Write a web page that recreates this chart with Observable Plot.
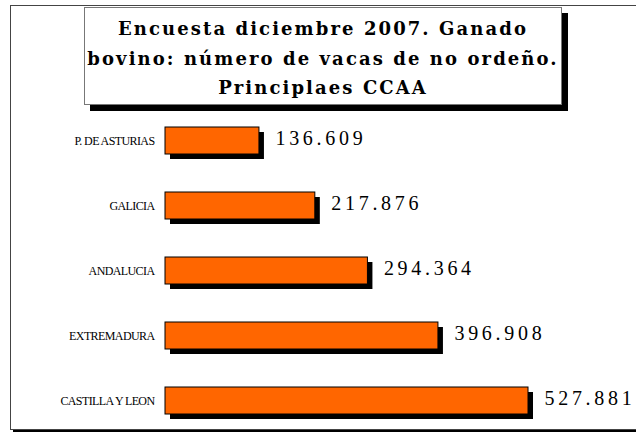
<!DOCTYPE html>
<html>
<head>
<meta charset="utf-8">
<script src="https://cdn.jsdelivr.net/npm/d3@7"></script>
<script src="https://cdn.jsdelivr.net/npm/@observablehq/plot@0.6"></script>
<style>
  html, body { margin: 0; padding: 0; background: #fff; }
  #wrap { position: relative; width: 636px; height: 432px; overflow: hidden; }
  #frame { position: absolute; left: 10px; top: 5px; width: 640px; height: 423px;
           border: 1.5px solid #444; box-shadow: 3px 3px 0 #000; }
  #titlebox { position: absolute; left: 84px; top: 7px; width: 478px; height: 98px;
              background: #fff; border: 1px solid #777; box-shadow: 6px 6px 0 #000;
              font-family: "DejaVu Serif", serif; font-weight: bold; font-size: 18px;
              text-align: center; line-height: 29.5px; padding-top: 6px;
              box-sizing: border-box; color: #000; }
  #chart { position: absolute; left: 0; top: 0; }
</style>
</head>
<body>
<div id="wrap">
  <div id="frame"></div>
  <div id="chart"></div>
  <div id="titlebox"></div>
</div>
<script>
const titleLines = ["Encuesta diciembre 2007. Ganado", "bovino: número de vacas de no ordeño.", "Principlaes CCAA"];
const categories = ["P. DE ASTURIAS", "GALICIA", "ANDALUCIA", "EXTREMADURA", "CASTILLA Y LEON"];
const values = [136609, 217876, 294364, 396908, 527881];

const data = categories.map((c, i) => ({c, v: values[i]}));
const es = d3.formatLocale({decimal: ",", thousands: ".", grouping: [3], currency: ["", ""]});
const fmt = es.format(",d");

// title, letter-spacing fitted so the first line spans about 408px
const tb = document.getElementById("titlebox");
tb.innerHTML = titleLines.join("<br>");
const ctx = document.createElement("canvas").getContext("2d");
ctx.font = "bold 18px 'DejaVu Serif'";
const w0 = ctx.measureText(titleLines[0]).width;
const ls = Math.max(0, Math.min(4, (408 - w0) / (titleLines[0].length - 1)));
tb.style.letterSpacing = ls.toFixed(2) + "px";

const chart = Plot.plot({
  width: 636,
  height: 432,
  margin: 0,
  style: {background: "transparent"},
  x: {domain: [0, d3.max(values)], range: [165, 528], axis: null},
  y: {domain: categories, range: [127, 414], paddingInner: 0.585, paddingOuter: 0, axis: null},
  marks: [
    Plot.barX(data, {x: "v", y: "c", fill: "#000", dx: 5, dy: 5}),
    Plot.barX(data, {x: "v", y: "c", fill: "#FF6600", stroke: "#000", strokeWidth: 1}),
    Plot.text(data, {x: "v", y: "c", text: d => fmt(d.v), textAnchor: "start", dx: 16, dy: -2,
      fontSize: 20, fontFamily: "Liberation Serif", fill: "#000"}),
    Plot.text(data, {x: 0, y: "c", text: "c", textAnchor: "end", dx: -11,
      fontSize: 12, fontFamily: "Liberation Serif", fill: "#000"})
  ]
});
const textGroups = d3.select(chart).selectAll("g[aria-label='text']").nodes();
if (textGroups[0]) d3.select(textGroups[0]).selectAll("text").style("letter-spacing", "3.7px");
if (textGroups[1]) d3.select(textGroups[1]).selectAll("text").style("letter-spacing", "-0.6px");
document.getElementById("chart").appendChild(chart);
</script>
</body>
</html>
